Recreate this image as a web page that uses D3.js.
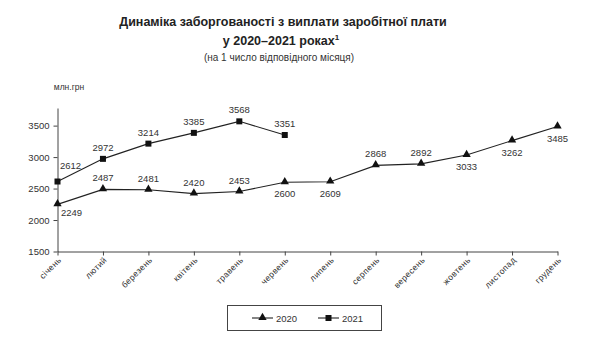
<!DOCTYPE html>
<html>
<head>
<meta charset="utf-8">
<script src="https://cdn.jsdelivr.net/npm/d3@7"></script>
<style>
  html, body { margin: 0; padding: 0; background: #fff; }
  svg { display: block; font-family: "Liberation Sans", "DejaVu Sans", sans-serif; }
</style>
</head>
<body>
<svg id="chart" width="600" height="342"></svg>
<script>
// Months of the year (category axis)
const months = ["січень", "лютий", "березень", "квітень", "травень", "червень",
                "липень", "серпень", "вересень", "жовтень", "листопад", "грудень"];
// Wage arrears, million UAH, on the 1st of each month
const values2020 = [2249, 2487, 2481, 2420, 2453, 2600, 2609, 2868, 2892, 3033, 3262, 3485];
const values2021 = [2612, 2972, 3214, 3385, 3568, 3351];
const yTicks = [1500, 2000, 2500, 3000, 3500];

// Where each value label sits relative to its marker
const place2020 = ["br", "a", "a", "a", "a", "b", "b", "a", "a", "b", "b", "b"];
const place2021 = ["ar", "a", "a", "a", "a", "a"];

const svg = d3.select("#chart");
const x0 = 57.5, x1 = 557.5, yTop = 108, yBottom = 251.5;

const x = d3.scalePoint().domain(months).range([x0, x1]);
const y = d3.scaleLinear().domain([1500, 3780]).range([yBottom, yTop]);

// Titles
svg.append("text").attr("x", 283).attr("y", 26).attr("text-anchor", "middle")
  .attr("font-weight", "bold").attr("font-size", 12.5).attr("fill", "#222")
  .text("Динаміка заборгованості з виплати заробітної плати");
const t2 = svg.append("text").attr("x", 281).attr("y", 45).attr("text-anchor", "middle")
  .attr("font-weight", "bold").attr("font-size", 12.5).attr("fill", "#222");
t2.append("tspan").text("у 2020–2021 роках");
t2.append("tspan").attr("font-size", 8).attr("dy", -5).text("1");
svg.append("text").attr("x", 279).attr("y", 61).attr("text-anchor", "middle")
  .attr("font-size", 10).attr("fill", "#333")
  .text("(на 1 число відповідного місяця)");

svg.append("text").attr("x", 69).attr("y", 90).attr("text-anchor", "middle")
  .attr("font-size", 8.5).attr("fill", "#333").text("млн.грн");

// Y axis
const yAxis = svg.append("g").attr("transform", `translate(${x0},0)`)
  .call(d3.axisLeft(y).tickValues(yTicks).tickFormat(d3.format("d"))
    .tickSize(4).tickSizeOuter(0).tickPadding(4));
yAxis.select(".domain").attr("stroke", "#444");
yAxis.selectAll(".tick line").attr("stroke", "#444");
yAxis.selectAll(".tick text").attr("font-size", 9.5).attr("fill", "#333")
  .attr("font-family", "Liberation Sans, sans-serif");

// X axis
const xAxis = svg.append("g").attr("transform", `translate(0,${yBottom})`)
  .call(d3.axisBottom(x).tickSize(4).tickSizeOuter(0).tickPadding(3));
xAxis.select(".domain").attr("stroke", "#444");
xAxis.selectAll(".tick line").attr("stroke", "#444");
xAxis.selectAll(".tick text")
  .attr("font-size", 8.5).attr("fill", "#333")
  .attr("font-family", "Liberation Sans, sans-serif")
  .attr("letter-spacing", 0.4)
  .attr("text-anchor", "end")
  .attr("dy", 0).attr("y", 0)
  .attr("transform", "translate(4,9) rotate(-45)");

// Series lines
const line = d3.line().x((d, i) => x(months[i])).y(d => y(d));
svg.append("path").datum(values2020).attr("d", line)
  .attr("fill", "none").attr("stroke", "#222").attr("stroke-width", 1.1);
svg.append("path").datum(values2021).attr("d", line)
  .attr("fill", "none").attr("stroke", "#222").attr("stroke-width", 1.1);

// Markers
const tri = d3.symbol().type(d3.symbolTriangle).size(30);
svg.append("g").selectAll("path").data(values2020).join("path")
  .attr("d", tri)
  .attr("transform", (d, i) => `translate(${x(months[i])},${y(d) - 0.5})`)
  .attr("fill", "#111");
svg.append("g").selectAll("rect").data(values2021).join("rect")
  .attr("x", (d, i) => x(months[i]) - 3).attr("y", d => y(d) - 3)
  .attr("width", 6).attr("height", 6).attr("fill", "#111");

// Value labels
function offset(p) {
  if (p === "a") return [0, -8];
  if (p === "b") return [0, 15];
  if (p === "br") return [14, 12];
  if (p === "ar") return [13, -13];
  return [0, 0];
}
function labels(vals, places) {
  svg.append("g").selectAll("text").data(vals).join("text")
    .attr("x", (d, i) => x(months[i]) + offset(places[i])[0])
    .attr("y", (d, i) => y(d) + offset(places[i])[1])
    .attr("text-anchor", "middle").attr("font-size", 9.5).attr("fill", "#333")
    .text(d => d);
}
labels(values2020, place2020);
labels(values2021, place2021);

// Legend
const lg = svg.append("g");
lg.append("rect").attr("x", 227.5).attr("y", 305.5).attr("width", 154).attr("height", 25)
  .attr("fill", "#fff").attr("stroke", "#444");
const ly = 318;
lg.append("line").attr("x1", 252).attr("x2", 273).attr("y1", ly).attr("y2", ly)
  .attr("stroke", "#222").attr("stroke-width", 1.1);
lg.append("path").attr("d", tri).attr("transform", `translate(262.5,${ly - 0.5})`).attr("fill", "#111");
lg.append("text").attr("x", 276).attr("y", ly + 3.5).attr("font-size", 9.5).attr("fill", "#333").text("2020");
lg.append("line").attr("x1", 318).attr("x2", 339).attr("y1", ly).attr("y2", ly)
  .attr("stroke", "#222").attr("stroke-width", 1.1);
lg.append("rect").attr("x", 325.5).attr("y", ly - 3).attr("width", 6).attr("height", 6).attr("fill", "#111");
lg.append("text").attr("x", 342).attr("y", ly + 3.5).attr("font-size", 9.5).attr("fill", "#333").text("2021");
</script>
</body>
</html>
